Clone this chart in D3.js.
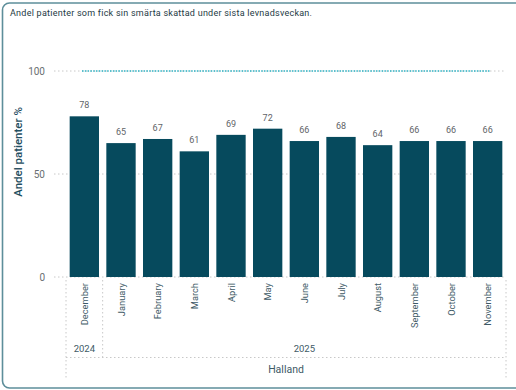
<!DOCTYPE html>
<html>
<head>
<meta charset="utf-8">
<script src="https://cdn.jsdelivr.net/npm/d3@7/dist/d3.min.js"></script>
<style>
  html, body { margin: 0; padding: 0; background: #fff; }
  svg { display: block; font-family: Roboto, "Noto Sans", sans-serif; }
</style>
</head>
<body>
<svg id="chart" width="516" height="390"></svg>
<script>
// Share of patients whose pain was assessed during the last week of life
const months = ["December", "January", "February", "March", "April", "May",
                "June", "July", "August", "September", "October", "November"];
const years = ["2024", "2025", "2025", "2025", "2025", "2025",
               "2025", "2025", "2025", "2025", "2025", "2025"];
const values = [78, 65, 67, 61, 69, 72, 66, 68, 64, 66, 66, 66];
const yTicks = [0, 50, 100];
const target = 100;
const region = "Halland";
const title = "Andel patienter som fick sin smärta skattad under sista levnadsveckan.";
const yTitle = "Andel patienter %";

const svg = d3.select("#chart");
const W = 516, H = 390;

const plotLeft = 66, plotRight = 506, plotTop = 71, plotBottom = 277;

const x = d3.scaleBand().domain(d3.range(months.length))
  .range([plotLeft, plotRight]).paddingInner(0.2).paddingOuter(0.1);
const y = d3.scaleLinear().domain([0, 100]).range([plotBottom, plotTop]);

// Card frame
svg.append("rect")
  .attr("x", 2.5).attr("y", 3).attr("width", W + 20).attr("height", H - 5)
  .attr("rx", 7).attr("fill", "none")
  .attr("stroke", "#5d8e9a").attr("stroke-width", 1.6);

// Title
svg.append("text").attr("x", 10).attr("y", 16)
  .attr("font-size", 9).attr("letter-spacing", 0.25).attr("fill", "#1d3a44").text(title);

// Gridlines
const grid = svg.append("g");
yTicks.forEach(t => {
  grid.append("line")
    .attr("x1", 54).attr("x2", plotRight).attr("y1", y(t)).attr("y2", y(t))
    .attr("stroke", "#c8c8c8").attr("stroke-width", 1).attr("stroke-dasharray", "1.5,2.5");
});

// Y axis labels
const yAxis = d3.axisLeft(y).tickValues(yTicks).tickSize(0).tickPadding(0);
const gy = svg.append("g").attr("transform", "translate(45,0)").call(yAxis);
gy.select(".domain").remove();
gy.selectAll("text").attr("font-size", 10).attr("fill", "#6a6f72")
  .attr("font-family", "Roboto, sans-serif");

// Y title
svg.append("text")
  .attr("transform", `translate(22,${(plotTop + plotBottom) / 2 - 22}) rotate(-90)`)
  .attr("text-anchor", "middle").attr("font-size", 11.5).attr("font-weight", 500)
  .attr("fill", "#1f4e5f").text(yTitle);

// Target line
svg.append("line")
  .attr("x1", 82).attr("x2", 490).attr("y1", y(target)).attr("y2", y(target))
  .attr("stroke", "#2fb2c4").attr("stroke-width", 1.4).attr("stroke-dasharray", "1.5,1.3");

// Bars
svg.append("g").selectAll("rect").data(values).join("rect")
  .attr("x", (d, i) => x(i)).attr("width", x.bandwidth())
  .attr("y", d => y(d)).attr("height", d => y(0) - y(d))
  .attr("fill", "#064a5d");

// Value labels
svg.append("g").selectAll("text").data(values).join("text")
  .attr("x", (d, i) => x(i) + x.bandwidth() / 2).attr("y", d => y(d) - 8)
  .attr("text-anchor", "middle").attr("font-size", 9).attr("fill", "#5f6468")
  .text(d => d);

// Month labels
svg.append("g").selectAll("text").data(months).join("text")
  .attr("transform", (d, i) => `translate(${x(i) + x.bandwidth() / 2 + 3.5},283) rotate(-90)`)
  .attr("text-anchor", "end").attr("font-size", 9.3).attr("fill", "#3e5a66")
  .text(d => d);

// Hierarchical axis: years and region
const dotted = { stroke: "#c8c8c8", "stroke-width": 1, "stroke-dasharray": "1.5,2.5" };
function dline(x1, y1, x2, y2) {
  const l = svg.append("line").attr("x1", x1).attr("y1", y1).attr("x2", x2).attr("y2", y2);
  Object.entries(dotted).forEach(([k, v]) => l.attr(k, v));
}
const yearGroups = d3.groups(d3.range(years.length), i => years[i]);
const step = x.step();
dline(plotLeft, 280, plotLeft, 378);
dline(plotRight, 280, plotRight, 378);
yearGroups.forEach(([yr, idx], gi) => {
  const x0 = plotLeft + idx[0] * step;
  const x1 = plotLeft + (idx[idx.length - 1] + 1) * step;
  if (gi > 0) dline(x0, 280, x0, 357);
  svg.append("text").attr("x", (x0 + x1) / 2).attr("y", 352)
    .attr("text-anchor", "middle").attr("font-size", 9.5).attr("fill", "#3e5a66").text(yr);
});
dline(plotLeft, 357.5, plotRight, 357.5);
svg.append("text").attr("x", (plotLeft + plotRight) / 2).attr("y", 373)
  .attr("text-anchor", "middle").attr("font-size", 10.5).attr("fill", "#3e5a66").text(region);
</script>
</body>
</html>
